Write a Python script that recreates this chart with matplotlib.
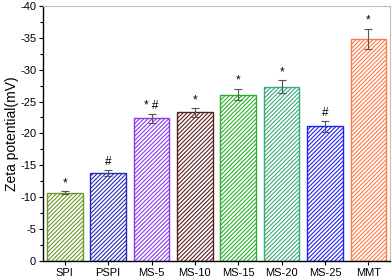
import matplotlib
matplotlib.use("Agg")
import matplotlib.pyplot as plt
from matplotlib.ticker import MultipleLocator

plt.rcParams['font.family'] = ['Liberation Sans', 'DejaVu Sans']
plt.rcParams['hatch.linewidth'] = 0.8
plt.rcParams['axes.unicode_minus'] = False

samples = ["SPI", "PSPI", "MS-5", "MS-10", "MS-15", "MS-20", "MS-25", "MMT"]
zeta = [-10.7, -13.8, -22.4, -23.3, -26.1, -27.3, -21.1, -34.8]
err = [0.2, 0.5, 0.7, 0.7, 0.9, 1.0, 0.8, 1.6]
marks = ["*", "#", "* #", "*", "*", "*", "#", "*"]
colors = ["#6b9a2a", "#2828b4", "#8a3cf0", "#5a2020", "#2ab02a", "#3aaa7a", "#2222ee", "#ff7a45"]

fig = plt.figure(figsize=(3.92, 2.8), dpi=100)
ax = fig.add_axes([0.11, 0.068, 0.885, 0.911])

x = range(len(samples))
for i in x:
    ax.bar(i, zeta[i], width=0.82, facecolor="white", edgecolor=colors[i],
           hatch="////////", linewidth=1.0)
    ax.errorbar(i, zeta[i], yerr=err[i], color="#555555", capsize=3,
                elinewidth=0.8, capthick=0.8)
    ax.text(i, zeta[i] - err[i] - 0.3, marks[i], ha="center", va="bottom",
            fontsize=8.5)

ax.set_xlim(-0.5, 7.5)
ax.set_ylim(0, -40)
ax.set_xticks(list(x))
ax.set_xticklabels(samples, fontsize=8)
ax.yaxis.set_major_locator(MultipleLocator(5))
ax.yaxis.set_minor_locator(MultipleLocator(2.5))
ax.tick_params(axis="y", labelsize=8, direction="out", length=3, width=0.8, pad=2)
ax.tick_params(axis="y", which="minor", direction="out", length=2, width=0.8)
ax.tick_params(axis="x", direction="out", length=3, width=0.8, pad=2)
ax.set_ylabel("Zeta potential(mV)", fontsize=10, labelpad=1)

ax.spines["left"].set_linewidth(1.0)
ax.spines["bottom"].set_linewidth(1.0)
ax.spines["top"].set_color("#bbbbbb")
ax.spines["right"].set_color("#bbbbbb")

fig.savefig("out.png", dpi=100)
